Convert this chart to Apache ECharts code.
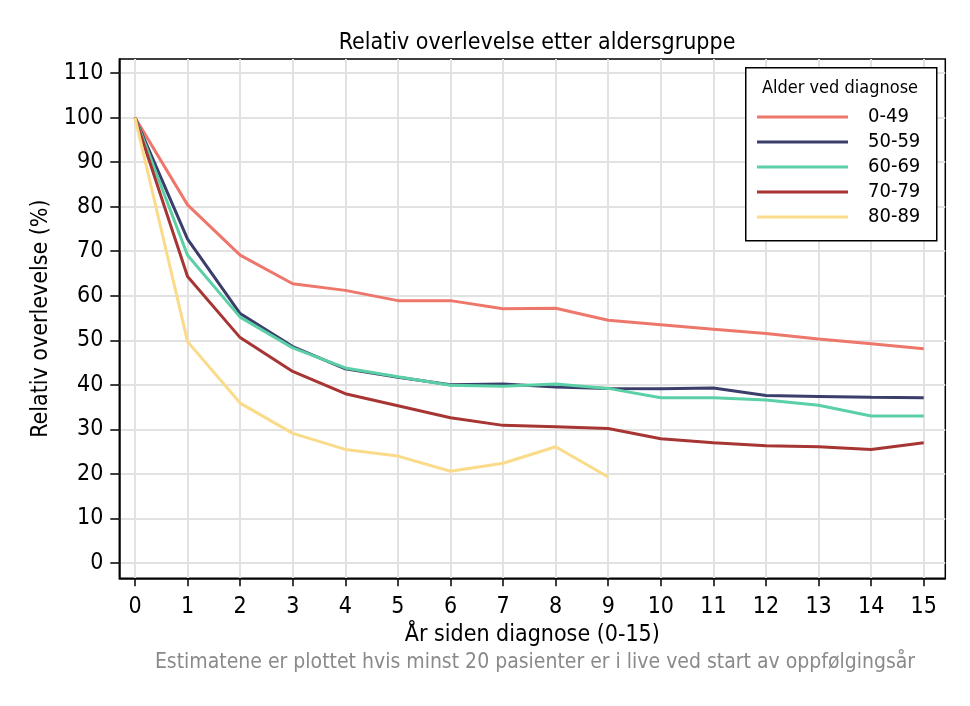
<!DOCTYPE html>
<html>
<head>
<meta charset="utf-8">
<script src="https://cdn.jsdelivr.net/npm/echarts@6/dist/echarts.min.js"></script>
<style>
  html, body { margin: 0; padding: 0; background: #fff; }
  #chart { width: 970px; height: 706px; }
</style>
</head>
<body>
<div id="chart"></div>
<script>
  // år siden diagnose
  var years = [0, 1, 2, 3, 4, 5, 6, 7, 8, 9, 10, 11, 12, 13, 14, 15];
  var yTicks = [0, 10, 20, 30, 40, 50, 60, 70, 80, 90, 100, 110];

  var groups = ['0-49', '50-59', '60-69', '70-79', '80-89'];
  var colors = ['#EE776C', '#3B3D6B', '#5BD0A7', '#A63533', '#FADB8A'];

  var age0_49  = [100, 80.4, 69.1, 62.7, 61.2, 58.9, 58.9, 57.1, 57.2, 54.5, 53.5, 52.5, 51.5, 50.3, 49.2, 48.1];
  var age50_59 = [100, 72.7, 56.0, 48.6, 43.6, 41.7, 40.0, 40.2, 39.5, 39.2, 39.1, 39.3, 37.6, 37.4, 37.2, 37.1];
  var age60_69 = [100, 69.1, 55.2, 48.3, 43.8, 41.8, 39.9, 39.7, 40.2, 39.2, 37.1, 37.1, 36.6, 35.4, 33.0, 33.0];
  var age70_79 = [100, 64.3, 50.6, 43.0, 38.0, 35.3, 32.6, 30.9, 30.6, 30.2, 27.9, 27.0, 26.3, 26.1, 25.5, 27.0];
  var age80_89 = [100, 49.7, 35.9, 29.1, 25.5, 24.0, 20.6, 22.4, 26.1, 19.3];

  var values = [age0_49, age50_59, age60_69, age70_79, age80_89];

  var font = "'Liberation Sans Narrow', 'DejaVu Sans Condensed', 'Liberation Sans', sans-serif";

  var chart = echarts.init(document.getElementById('chart'));

  var series = groups.map(function (name, i) {
    return {
      name: name,
      type: 'line',
      symbol: 'none',
      silent: true,
      lineStyle: { color: colors[i], width: 3 },
      itemStyle: { color: colors[i] },
      data: values[i].map(function (v, k) { return [years[k], v]; })
    };
  });

  var option = {
    animation: false,
    textStyle: { fontFamily: font },
    title: {
      text: 'Relativ overlevelse etter aldersgruppe',
      left: 532,
      top: 27,
      textAlign: 'center',
      textStyle: { fontFamily: font, fontSize: 23, fontWeight: 'normal', color: '#000' }
    },
    grid: {
      left: 119.3,
      right: 24.7,
      top: 59,
      bottom: 127.7,
      show: true,
      borderColor: '#000',
      borderWidth: 1.5
    },
    legend: {
      orient: 'vertical',
      left: 757,
      top: 104.5,
      padding: 0,
      itemGap: 0,
      itemWidth: 91,
      itemHeight: 3,
      icon: 'rect',
      selectedMode: false,
      z: 20,
      data: groups,
      textStyle: { fontFamily: font, fontSize: 20, color: '#000', lineHeight: 25, padding: [0, 0, 0, 15] }
    },
    xAxis: {
      type: 'value',
      min: -0.298,
      max: 15.41,
      name: 'År siden diagnose (0-15)',
      nameLocation: 'middle',
      nameGap: 42,
      nameTextStyle: { fontFamily: font, fontSize: 23, color: '#000' },
      axisLine: { show: true, onZero: false, lineStyle: { color: '#000', width: 1.5 } },
      axisTick: { show: true, length: 8, customValues: years, lineStyle: { color: '#000', width: 1.5 } },
      axisLabel: { customValues: years, margin: 17, fontFamily: font, fontSize: 23, color: '#000' },
      splitLine: { show: true, lineStyle: { color: '#e2e2e2', width: 2 } }
    },
    yAxis: {
      type: 'value',
      min: -3.43,
      max: 113.14,
      name: 'Relativ overlevelse (%)',
      nameLocation: 'middle',
      nameGap: 66,
      nameRotate: 90,
      nameTextStyle: { fontFamily: font, fontSize: 23, color: '#000' },
      axisLine: { show: true, onZero: false, lineStyle: { color: '#000', width: 1.5 } },
      axisTick: { show: true, length: 9, customValues: yTicks, lineStyle: { color: '#000', width: 1.5 } },
      axisLabel: { customValues: yTicks, margin: 16, fontFamily: font, fontSize: 23, color: '#000' },
      splitLine: { show: true, lineStyle: { color: '#e2e2e2', width: 2 } }
    },
    graphic: [
      {
        type: 'rect',
        left: 745,
        top: 67,
        z: 8,
        shape: { width: 191, height: 173 },
        style: { fill: '#fff', stroke: '#000', lineWidth: 1.5 }
      },
      {
        type: 'text',
        x: 840,
        y: 88,
        z: 9,
        style: {
          text: 'Alder ved diagnose', fontFamily: font, fontSize: 18, fill: '#000',
          align: 'center', verticalAlign: 'middle'
        }
      },
      {
        type: 'text',
        x: 535,
        y: 663,
        style: {
          text: 'Estimatene er plottet hvis minst 20 pasienter er i live ved start av oppfølgingsår',
          fontFamily: font, fontSize: 21, fill: '#8a8a8a', align: 'center', verticalAlign: 'middle'
        }
      }
    ],
    series: series
  };

  chart.setOption(option);
</script>
</body>
</html>
